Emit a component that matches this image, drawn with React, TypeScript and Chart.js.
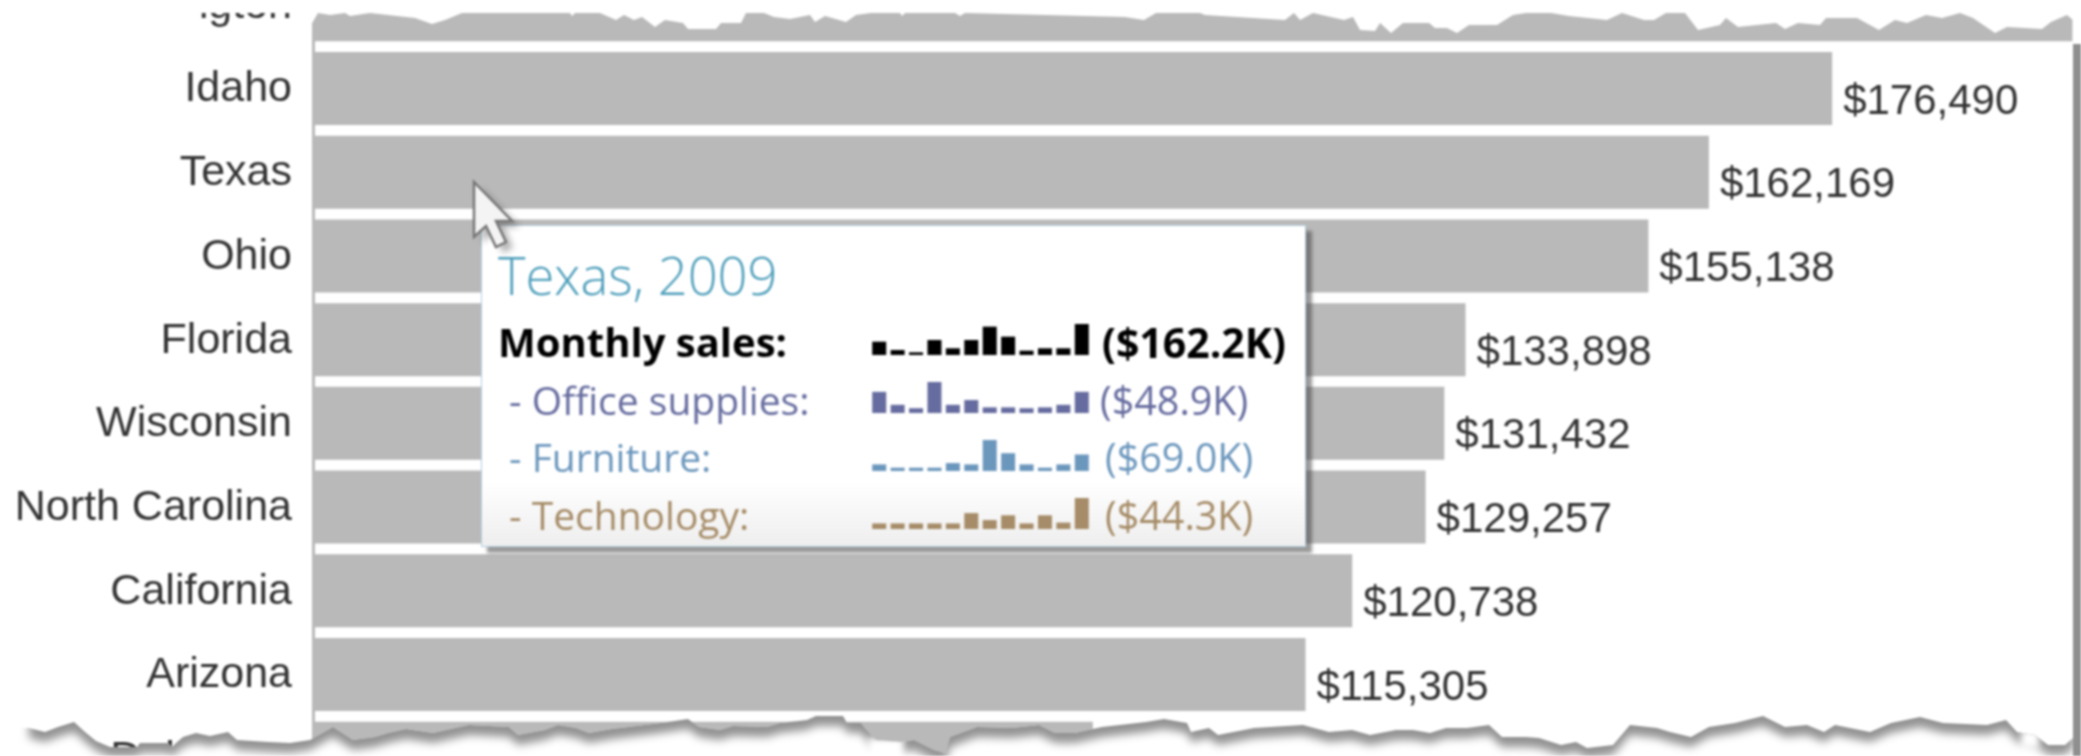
import React, { useEffect, useRef } from "react";
import { Chart, registerables } from "chart.js";

Chart.register(...registerables);

const states = ["Washington", "Idaho", "Texas", "Ohio", "Florida", "Wisconsin", "North Carolina", "California", "Arizona", "Delaware"];
const sales = [204400, 176490, 162169, 155138, 133898, 131432, 129257, 120738, 115305, 90600];

const tooltipTitle = "Texas, 2009";
const monthlyTotal = [14.1, 5.3, 2.8, 15.9, 7.1, 15.9, 30, 19.4, 4.6, 7.1, 7.1, 32.8];
const officeSupplies = [7.5, 2.9, 1.7, 11, 2.9, 4.6, 2, 2, 1.7, 2, 2.9, 7.5];
const furniture = [4, 2, 2, 2, 4.8, 4, 18.8, 10.8, 4, 2, 4, 10];
const technology = [2, 2, 2, 2, 2, 5.7, 3.2, 4.9, 2, 4.9, 2.3, 11.1];
const months = ["Jan", "Feb", "Mar", "Apr", "May", "Jun", "Jul", "Aug", "Sep", "Oct", "Nov", "Dec"];

const rows = [
  { label: "Monthly sales:", value: "($162.2K)", data: monthlyTotal, color: "#000000", bold: true, y: 342, spark: 355, valueX: 1102, labelX: 498, labelSize: 40, valueSize: 41 },
  { label: "- Office supplies:", value: "($48.9K)", data: officeSupplies, color: "#666c9f", bold: false, y: 400, spark: 413, valueX: 1100, labelX: 509, labelSize: 39, valueSize: 39.5 },
  { label: "- Furniture:", value: "($69.0K)", data: furniture, color: "#6c97bd", bold: false, y: 457, spark: 471, valueX: 1105, labelX: 509, labelSize: 39, valueSize: 39.5 },
  { label: "- Technology:", value: "($44.3K)", data: technology, color: "#a68c68", bold: false, y: 515, spark: 529, valueX: 1105, labelX: 509, labelSize: 39, valueSize: 39.5 },
];

const WIDTH = 2081;
const HEIGHT = 756;
const CANVAS_TOP = -37;

// Torn paper edges (decoration, not data)
const topTear: number[][] = [
  [0, 32], [198, 32], [199, 13], [310, 13], [311, 25], [318, 13], [330, 15], [345, 13], [350, 16], [370, 13], [415, 18], [432, 24], [445, 20], [462, 13],
  [570, 13], [572, 16], [575, 13], [600, 13], [616, 20], [624, 15], [634, 20], [642, 17], [655, 27], [665, 20], [683, 23], [688, 29],
  [716, 29], [721, 23], [741, 23], [746, 13], [764, 13], [774, 17], [790, 19], [810, 15], [815, 22], [825, 16], [846, 22], [856, 15],
  [871, 13], [900, 13], [902, 16], [905, 13], [955, 13], [960, 16], [965, 13], [1125, 17], [1144, 20], [1156, 13], [1200, 13], [1205, 15],
  [1285, 20], [1294, 13], [1300, 20], [1313, 13], [1344, 20], [1353, 17], [1360, 30], [1375, 31], [1380, 23], [1391, 33], [1403, 23],
  [1429, 23], [1435, 28], [1447, 28], [1457, 33], [1469, 25], [1497, 25], [1513, 15], [1526, 13], [1551, 13], [1569, 16], [1607, 20],
  [1622, 13], [1644, 20], [1654, 20], [1666, 13], [1685, 13], [1698, 30], [1720, 25], [1726, 18], [1738, 27], [1776, 23], [1785, 29],
  [1798, 23], [1820, 25], [1826, 18], [1857, 18], [1879, 30], [1895, 20], [1907, 23], [1926, 15], [1942, 18], [1960, 13], [1973, 18],
  [1995, 33], [2007, 27], [2042, 29], [2051, 22], [2067, 15], [2073, 20], [2081, 20],
];
const bottomTear: number[][] = [
  [29, 728], [45, 732], [58, 727], [74, 722], [85, 732], [96, 741], [110, 747], [137, 747], [140, 743], [168, 743], [172, 747], [176, 743], [183, 737], [196, 733], [210, 736],
  [228, 732], [237, 740], [268, 742], [290, 743], [310, 740], [333, 727], [353, 740], [375, 737], [388, 733], [406, 729], [433, 733],
  [469, 725], [509, 727], [518, 735], [545, 730], [558, 725], [576, 728], [589, 733], [612, 729], [661, 723], [688, 719], [699, 727],
  [720, 730], [733, 726], [767, 727], [780, 723], [807, 720], [816, 716], [843, 716], [847, 723], [861, 723], [865, 728], [876, 740],
  [901, 742], [914, 740], [934, 750], [945, 753], [950, 737], [977, 727], [1012, 728], [1039, 725], [1055, 733], [1075, 733], [1102, 727],
  [1146, 722], [1164, 719], [1187, 723], [1191, 732], [1209, 728], [1218, 735], [1254, 728], [1303, 725], [1329, 732], [1352, 730],
  [1370, 735], [1396, 730], [1413, 730], [1430, 733], [1446, 728], [1467, 728], [1489, 725], [1502, 737], [1526, 737], [1539, 738],
  [1561, 745], [1576, 742], [1587, 748], [1613, 745], [1630, 725], [1657, 728], [1670, 732], [1691, 737], [1709, 727], [1735, 723],
  [1763, 716], [1785, 727], [1807, 725], [1824, 732], [1835, 725], [1870, 732], [1891, 723], [1920, 717], [1943, 723], [1987, 725],
  [2006, 720], [2017, 732], [2035, 735], [2048, 745], [2065, 745], [2074, 737],
];

const tornEdges = {
  id: "tornEdges",
  afterDraw(chart: any) {
    const ctx = chart.ctx;
    ctx.save();
    ctx.translate(0, -CANVAS_TOP);
    // top edge
    ctx.fillStyle = "#ffffff";
    ctx.beginPath();
    ctx.moveTo(0, -40);
    ctx.lineTo(WIDTH, -40);
    topTear.slice().reverse().forEach((p) => ctx.lineTo(p[0], p[1]));
    ctx.closePath();
    ctx.fill();
    // right margin
    ctx.fillRect(2073, 20, 8, 760);
    // below the bottom edge
    const below = () => {
      ctx.beginPath();
      ctx.moveTo(0, 800);
      ctx.lineTo(0, bottomTear[0][1]);
      bottomTear.forEach((p) => ctx.lineTo(p[0], p[1]));
      ctx.lineTo(WIDTH, bottomTear[bottomTear.length - 1][1]);
      ctx.lineTo(WIDTH, 800);
      ctx.closePath();
    };
    below();
    ctx.fill();
    // shadow of the bottom edge, only outside the paper
    ctx.save();
    below();
    ctx.clip();
    ctx.filter = "blur(4px)";
    ctx.fillStyle = "#929292";
    ctx.beginPath();
    ctx.moveTo(29, 600);
    bottomTear.forEach((p) => ctx.lineTo(p[0], p[1] + 10));
    ctx.lineTo(2074, 600);
    ctx.closePath();
    ctx.fill();
    // places where the paper casts no shadow
    ctx.filter = "blur(3px)";
    ctx.fillStyle = "#ffffff";
    ctx.fillRect(868, 738, 36, 24);
    ctx.fillRect(2021, 730, 18, 18);
    ctx.restore();
    // shadow of the right edge
    ctx.fillStyle = "#8f8f8f";
    ctx.fillRect(2073, 44, 8, 712);
    ctx.restore();
  },
};

const valueLabels = {
  id: "valueLabels",
  afterDatasetsDraw(chart: any) {
    const ctx = chart.ctx;
    ctx.save();
    ctx.font = "42px 'Liberation Sans'";
    ctx.fillStyle = "#333333";
    ctx.textBaseline = "middle";
    ctx.textAlign = "left";
    chart.getDatasetMeta(0).data.forEach((bar: any, i: number) => {
      ctx.fillText("$" + sales[i].toLocaleString("en-US"), bar.x + 11, bar.y + 13.5);
    });
    ctx.restore();
  },
};

function Spark({ data, color, bottom }: { data: number[]; color: string; bottom: number }) {
  const ref = useRef<HTMLCanvasElement>(null);
  useEffect(() => {
    const chart = new Chart(ref.current!, {
      type: "bar",
      data: {
        labels: months,
        datasets: [{ data, backgroundColor: color, barPercentage: 0.76, categoryPercentage: 1 }],
      },
      options: {
        animation: false,
        responsive: false,
        devicePixelRatio: 1,
        layout: { padding: 0 },
        plugins: { legend: { display: false }, tooltip: { enabled: false } },
        scales: {
          x: { display: false },
          y: { display: false, min: 0, max: Math.max(...data) },
        },
      },
    } as any);
    return () => chart.destroy();
  }, []);
  return (
    <canvas
      ref={ref}
      width={221}
      height={31}
      style={{ position: "absolute", left: 870, top: bottom - 31, width: 221, height: 31 }}
    />
  );
}

const textStyle: React.CSSProperties = {
  position: "absolute",
  whiteSpace: "nowrap",
  fontFamily: "'Open Sans'",
  lineHeight: "50px",
  height: 50,
};

export default function App() {
  const ref = useRef<HTMLCanvasElement>(null);
  useEffect(() => {
    const chart = new Chart(ref.current!, {
      type: "bar",
      data: {
        labels: states,
        datasets: [{ data: sales, backgroundColor: "#b9b9b9", barPercentage: 0.872, categoryPercentage: 1 }],
      },
      options: {
        indexAxis: "y",
        animation: false,
        responsive: false,
        devicePixelRatio: 1,
        layout: { padding: 0 },
        plugins: { legend: { display: false }, tooltip: { enabled: false } },
        scales: {
          x: { display: false, min: 0, max: 205400 },
          y: {
            afterFit: (s: any) => {
              s.width = 313;
              s.paddingTop = 0;
              s.paddingBottom = 0;
            },
            grid: { display: false, drawTicks: false },
            border: { display: true, color: "#b9b9b9", width: 3 },
            ticks: {
              autoSkip: false,
              padding: 21,
              labelOffset: 1,
              color: "#333333",
              font: { family: "'Liberation Sans'", size: 43 },
            },
          },
        },
      },
      plugins: [valueLabels, tornEdges],
    } as any);
    return () => chart.destroy();
  }, []);

  return (
    <div
      style={{
        position: "absolute",
        left: 0,
        top: 0,
        width: WIDTH,
        height: HEIGHT,
        overflow: "hidden",
        background: "#fff",
        filter: "blur(1px)",
      }}
    >
      <canvas
        ref={ref}
        width={WIDTH}
        height={837}
        style={{ position: "absolute", left: 0, top: CANVAS_TOP, width: WIDTH, height: 837 }}
      />
      <div
        style={{
          position: "absolute",
          left: 481,
          top: 225,
          width: 823,
          height: 320,
          border: "1.5px solid #b4cfe0",
          background: "linear-gradient(to bottom, #ffffff 0%, #ffffff 80%, #eeeeee 100%)",
          boxShadow: "6px 6px 3px rgba(70,70,70,0.55)",
        }}
      />
      <div style={{ ...textStyle, left: 498, top: 245, fontSize: 52.5, fontWeight: 300, color: "#4f9fbb", lineHeight: "60px", height: 60 }}>
        {tooltipTitle}
      </div>
      {rows.map((r) => (
        <React.Fragment key={r.label}>
          <div
            style={{
              ...textStyle,
              left: r.labelX,
              top: r.y - 25,
              fontSize: r.labelSize,
              fontWeight: r.bold ? 700 : 400,
              color: r.color,
            }}
          >
            {r.label}
          </div>
          <Spark data={r.data} color={r.color} bottom={r.spark} />
          <div
            style={{
              ...textStyle,
              left: r.valueX,
              top: r.y - 25,
              fontSize: r.valueSize,
              fontWeight: r.bold ? 700 : 400,
              color: r.color,
            }}
          >
            {r.value}
          </div>
        </React.Fragment>
      ))}
      <svg
        width={70}
        height={90}
        style={{ position: "absolute", left: 465, top: 175, overflow: "visible" }}
      >
        <polygon
          points="12,9 12,64 24,53 33,74 43,69 34,48 50,48"
          fill="#555"
          opacity={0.45}
          transform="translate(5,4)"
          style={{ filter: "blur(3px)" }}
        />
        <polygon points="9,7 9,62 21,51 31,72 41,67 31,46 47,46" fill="#f4f4f4" stroke="#777" strokeWidth={2.5} />
      </svg>
    </div>
  );
}
